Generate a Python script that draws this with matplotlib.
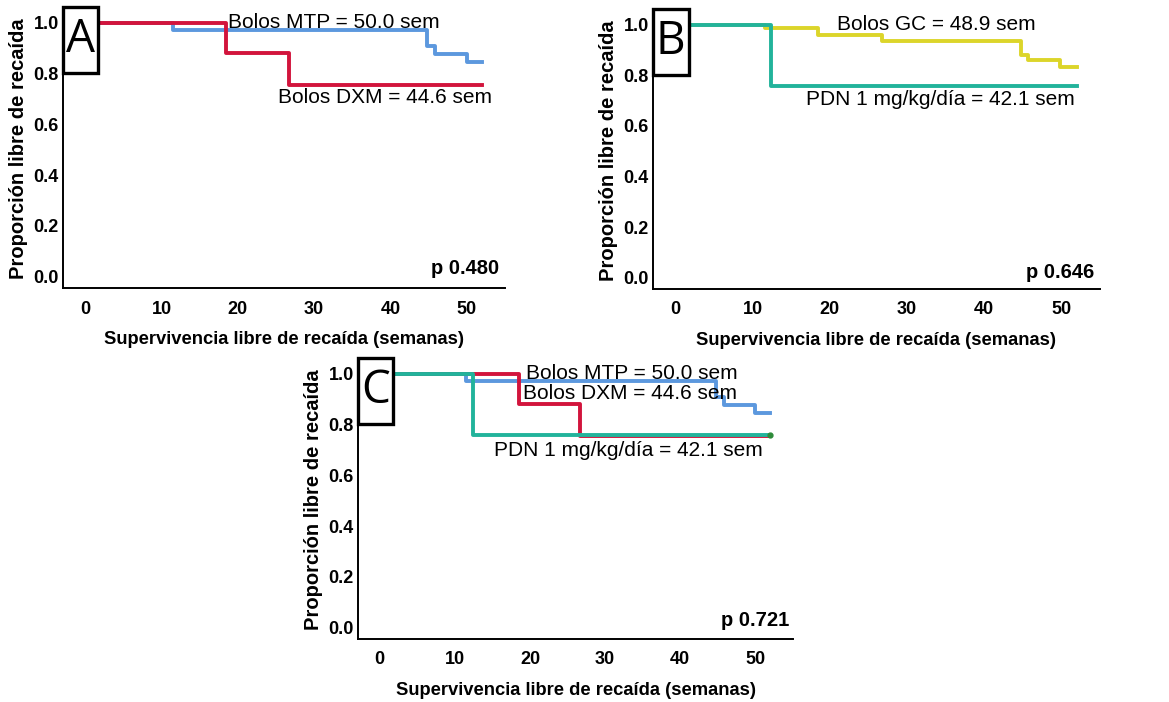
import matplotlib.pyplot as plt
from matplotlib.patches import Rectangle

plt.rcParams['font.family'] = ['Liberation Sans', 'DejaVu Sans']

# Kaplan-Meier step data (weeks, proportion free of relapse)
mtp_t = [0, 11.5, 44.8, 45.8, 50.0, 52.0]
mtp_s = [1.0, 0.970, 0.907, 0.878, 0.845, 0.845]
dxm_t = [0, 18.5, 26.7, 52.0]
dxm_s = [1.0, 0.880, 0.756, 0.756]
pdn_t = [0, 12.4, 52.0]
pdn_s = [1.0, 0.757, 0.757]
gc_t = [0, 11.6, 18.5, 26.7, 44.8, 45.7, 49.8, 52.0]
gc_s = [1.0, 0.987, 0.960, 0.934, 0.880, 0.859, 0.831, 0.831]

x_ticks = [0, 10, 20, 30, 40, 50]
y_ticks = [0.0, 0.2, 0.4, 0.6, 0.8, 1.0]

RED = '#d2143c'
BLUE = '#5c98de'
TEAL = '#22b39b'
YELLOW = '#dcd52a'
LW = 2.8

W, H = 1169, 702
fig = plt.figure(figsize=(W / 100, H / 100), dpi=100)


def make_ax(left, right, bottom, top):
    ax = fig.add_axes([left / W, 1 - bottom / H, (right - left) / W, (bottom - top) / H])
    ax.set_xlim(-2.9, 55)
    ax.set_ylim(-0.045, 1.05)
    for s in ['top', 'right']:
        ax.spines[s].set_visible(False)
    for s in ['left', 'bottom']:
        ax.spines[s].set_linewidth(1.4)
    ax.set_xticks(x_ticks)
    ax.set_yticks(y_ticks)
    ax.set_yticklabels([f'{v:.1f}' for v in y_ticks])
    ax.tick_params(length=0, labelsize=13)
    ax.tick_params(axis='x', pad=9)
    ax.tick_params(axis='y', pad=3)
    for lab in ax.get_xticklabels() + ax.get_yticklabels():
        lab.set_fontweight('bold')
    ax.set_xlabel('Supervivencia libre de recaída (semanas)', fontsize=13.2, fontweight='bold', labelpad=10)
    ax.set_ylabel('Proporción libre de recaída', fontsize=14.5, fontweight='bold', labelpad=4)
    return ax


def letter_box(ax, letter):
    ax.add_patch(Rectangle((-2.9, 0.80), 4.6, 0.26, facecolor='white', edgecolor='black',
                           linewidth=2.4, clip_on=False, zorder=5))
    ax.text(-0.6, 0.93, letter, fontsize=33, family=['Open Sans', 'DejaVu Sans'],
            ha='center', va='center', zorder=6, clip_on=False)


# Panel A
axA = make_ax(63, 505, 288, 10)
axA.step(mtp_t, mtp_s, where='post', color=BLUE, lw=LW, clip_on=False)
axA.step(dxm_t, dxm_s, where='post', color=RED, lw=LW, clip_on=False)
letter_box(axA, 'A')
axA.text(18.7, 1.0, 'Bolos MTP = 50.0 sem', fontsize=15, va='center', ha='left')
axA.text(25.3, 0.705, 'Bolos DXM = 44.6 sem', fontsize=15, va='center', ha='left')
axA.text(54.2, 0.03, 'p 0.480', fontsize=14.5, fontweight='bold', va='center', ha='right')

# Panel B
axB = make_ax(653, 1100, 289, 12)
axB.step(gc_t, gc_s, where='post', color=YELLOW, lw=LW, clip_on=False)
axB.step(pdn_t, pdn_s, where='post', color=TEAL, lw=LW, clip_on=False)
letter_box(axB, 'B')
axB.text(20.9, 1.0, 'Bolos GC = 48.9 sem', fontsize=15, va='center', ha='left')
axB.text(16.9, 0.704, 'PDN 1 mg/kg/día = 42.1 sem', fontsize=15, va='center', ha='left')
axB.text(54.3, 0.02, 'p 0.646', fontsize=14.5, fontweight='bold', va='center', ha='right')

# Panel C
axC = make_ax(358, 793, 639, 361)
axC.step(mtp_t, mtp_s, where='post', color=BLUE, lw=LW, clip_on=False)
axC.step(dxm_t, dxm_s, where='post', color=RED, lw=LW, clip_on=False)
axC.step(pdn_t, pdn_s, where='post', color=TEAL, lw=LW, clip_on=False)
axC.plot([pdn_t[-1]], [pdn_s[-1]], 'o', color='#2e8b3a', ms=3.5, clip_on=False)
letter_box(axC, 'C')
axC.text(19.4, 1.0, 'Bolos MTP = 50.0 sem', fontsize=15, va='center', ha='left')
axC.text(19.1, 0.921, 'Bolos DXM = 44.6 sem', fontsize=15, va='center', ha='left')
axC.text(15.2, 0.697, 'PDN 1 mg/kg/día = 42.1 sem', fontsize=15, va='center', ha='left')
axC.text(54.5, 0.026, 'p 0.721', fontsize=14.5, fontweight='bold', va='center', ha='right')

fig.savefig('out.png', dpi=100)
